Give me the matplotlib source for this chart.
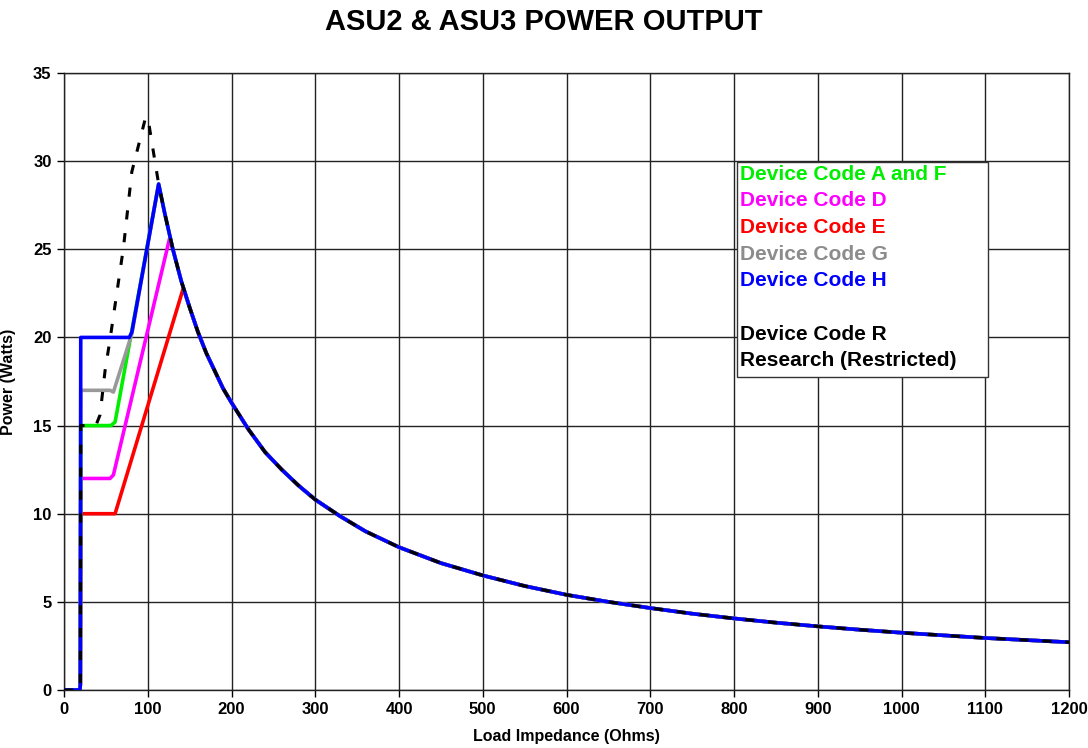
import matplotlib
matplotlib.use('Agg')
import matplotlib.pyplot as plt
from matplotlib.patches import Rectangle

plt.rcParams['font.family'] = ['Liberation Sans', 'DejaVu Sans']
plt.rcParams['font.weight'] = 'bold'

# shared falling tail
TAIL_R = [113, 120, 130, 140, 150, 160, 170, 180, 190, 200, 220, 240, 260, 280, 300,
          330, 360, 400, 450, 500, 550, 600, 650, 700, 750, 800, 850, 900, 950,
          1000, 1050, 1100, 1150, 1200]
TAIL_P = [28.7, 27.1, 25.0, 23.2, 21.7, 20.3, 19.1, 18.1, 17.1, 16.3, 14.8, 13.5, 12.5,
          11.6, 10.8, 9.85, 9.0, 8.1, 7.2, 6.5, 5.9, 5.4, 5.0, 4.65, 4.33, 4.06, 3.82,
          3.61, 3.42, 3.25, 3.10, 2.95, 2.83, 2.71]

# rising heads for each device code
E_R = [0, 19, 19.5, 20, 58, 61, 142.5]
E_P = [0, 0, 0.3, 10, 10, 10, 22.8]
D_R = [0, 19, 19.5, 20, 55, 59, 126.5]
D_P = [0, 0, 0.3, 12, 12, 12.2, 25.7]
AF_R = [0, 19, 19.5, 20, 56, 61, 113]
AF_P = [0, 0, 0.3, 15, 15, 15.2, 28.7]
G_R = [0, 19, 19.5, 20, 55, 59, 81, 113]
G_P = [0, 0, 0.3, 17, 17, 16.9, 20.2, 28.7]
H_R = [0, 19, 19.5, 20, 78, 81, 113]
H_P = [0, 0, 0.3, 20, 20, 20.3, 28.7]
R_R = [0, 19, 19.5, 20, 38, 43, 49, 55, 71, 81, 89, 97, 100]
R_P = [0, 0, 0.3, 15, 15, 15.6, 18.1, 19.9, 25.1, 29.4, 30.9, 32.4, 32.5]

LEGEND_LINES = [
    ('Device Code A and F', '#00ee00'),
    ('Device Code D', '#ff00ff'),
    ('Device Code E', '#ff0000'),
    ('Device Code G', '#8c8c8c'),
    ('Device Code H', '#0000ff'),
    ('', 'black'),
    ('Device Code R', 'black'),
    ('Research (Restricted)', 'black'),
]


def join(head_r, head_p):
    r = list(head_r) + [x for x in TAIL_R if x > head_r[-1]]
    p = list(head_p) + [y for x, y in zip(TAIL_R, TAIL_P) if x > head_r[-1]]
    return r, p


fig = plt.figure(figsize=(10.88, 7.48), dpi=100)
ax = fig.add_axes([64 / 1088, 1 - 690 / 748, 1005 / 1088, 617 / 748])

lw = 2.6
series = [
    (E_R, E_P, '#ff0000'),
    (D_R, D_P, '#ff00ff'),
    (AF_R, AF_P, '#00ee00'),
    (G_R, G_P, '#999999'),
    (H_R, H_P, '#0000ff'),
]
for hr, hp, col in series:
    r, p = join(hr, hp)
    ax.plot(r, p, color=col, lw=lw, solid_joinstyle='round', zorder=3)

r, p = join(R_R, R_P)
ax.plot(r, p, color='black', lw=2.2, linestyle=(0, (3, 4.5)), zorder=4)

ax.set_xlim(0, 1200)
ax.set_ylim(0, 35)
ax.set_xticks(range(0, 1201, 100))
ax.set_yticks(range(0, 36, 5))
ax.grid(True, color='#222222', lw=1.0)
ax.set_axisbelow(True)
for s in ax.spines.values():
    s.set_color('#222222')
    s.set_linewidth(1.0)
ax.tick_params(direction='out', length=5, width=1, labelsize=12, pad=4)
for lab in ax.get_xticklabels() + ax.get_yticklabels():
    lab.set_fontweight('bold')

ax.set_xlabel('Load Impedance (Ohms)', fontsize=11.5, fontweight='bold', labelpad=8)
ax.set_ylabel('Power (Watts)', fontsize=11.5, fontweight='bold', labelpad=12)

fig.text(0.5, 1 - 22 / 748, 'ASU2 & ASU3 POWER OUTPUT', ha='center', va='center',
         fontsize=21, fontweight='bold')

# legend box made of coloured text
fig.patches.append(Rectangle((737 / 1088, 1 - 377 / 748), 251 / 1088, 215 / 748,
                             transform=fig.transFigure, facecolor='white',
                             edgecolor='#333333', lw=1.0, zorder=5))
y0 = 174
for i, (txt, col) in enumerate(LEGEND_LINES):
    if txt:
        fig.text(740 / 1088, 1 - (y0 + i * 26.7) / 748, txt, color=col, fontsize=15,
                 fontweight='bold', ha='left', va='center', zorder=6)

fig.savefig('out.png', dpi=100)
